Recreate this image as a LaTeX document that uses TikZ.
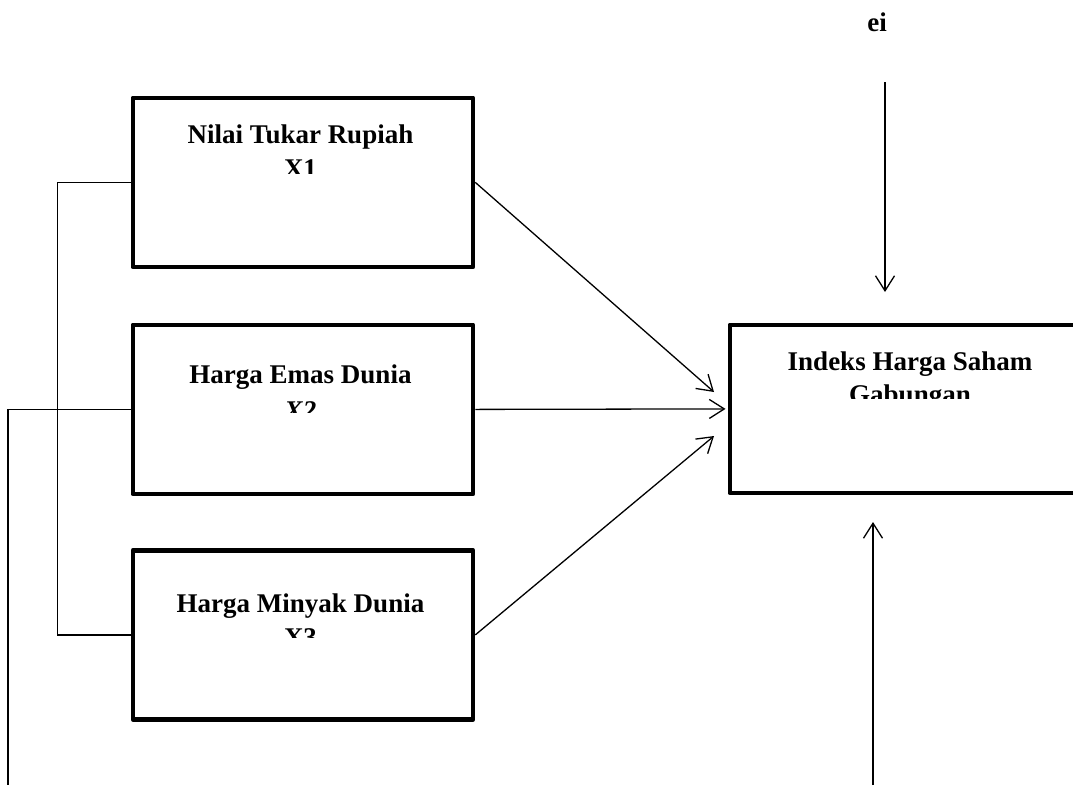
\documentclass[tikz,border=0pt]{standalone}
\usepackage{fontspec}
\setmainfont{Liberation Serif}
\usetikzlibrary{arrows.meta}
\begin{document}
\begin{tikzpicture}[x=1pt,y=-1pt,
  boxnode/.style={draw, line width=4.8pt, line join=round, minimum width=340pt, minimum height=169pt, inner sep=0pt, anchor=north west},
  lbl/.style={font=\fontsize{27}{34}\selectfont\bfseries, anchor=base, inner sep=0pt},
  conn/.style={line width=1.3pt},
  arr/.style={conn, -{Straight Barb[length=15pt,width=19pt,line width=1.3pt]}}]
\useasboundingbox (0,0) rectangle (1073,785);
\fill[white] (0,0) rectangle (1073,785);

% boxes
\node[boxnode] (b1) at (130.5,95.5) {};
\node[boxnode] (b2) at (130.5,322.5) {};
\node[boxnode] (b3) at (130.5,548) {};
\node[boxnode, minimum width=360pt, minimum height=168pt] (by) at (727.5,322.5) {};

% labels (first lines)
\node[lbl] (t1a) at (300.5,143) {Nilai Tukar Rupiah};
\node[lbl] (t2a) at (300.5,383) {Harga Emas Dunia};
\node[lbl] (t3a) at (300.5,612) {Harga Minyak Dunia};
\node[lbl] (tya) at (910,370) {Indeks Harga Saham};
\node[lbl] (ei) at (877,31) {ei};

% clipped second lines
\begin{scope}
  \clip (0,0) rectangle (1073,173);
  \node[lbl] (t1b) at (300.5,177.5) {X1};
\end{scope}
\begin{scope}
  \clip (0,0) rectangle (1073,412);
  \node[lbl, font=\fontsize{27}{34}\selectfont\bfseries\itshape] (t2b) at (300.5,419) {X2};
\end{scope}
\begin{scope}
  \clip (0,0) rectangle (1073,637);
  \node[lbl] (t3b) at (300.5,646) {X3};
\end{scope}
\begin{scope}
  \clip (0,0) rectangle (1073,398);
  \node[lbl] (tyb) at (910,403) {Gabungan};
\end{scope}

% coordinates
\coordinate (p1) at (714,392);
\coordinate (p3) at (714,436);
\coordinate (eitop) at (885,82);
\coordinate (eitip) at (885,292);
\coordinate (bot) at (873,785);
\coordinate (bottip) at (873,522);
\coordinate (c2) at (8,785);

% arrows into Y
\draw[arr] (b1.east) -- (p1);
\draw[arr, shorten >=2pt] (b2.east) -- (by.west);
\draw[arr] (b3.east) -- (p3);
\draw[arr] (eitop) -- (eitip);
\draw[arr] (bot) -- (bottip);

% correlation lines on the left
\draw[conn] (b1.west) -- ++(-73,0) |- (b3.west);
\draw[conn] (b2.west) -| (c2);
\end{tikzpicture}
\end{document}
